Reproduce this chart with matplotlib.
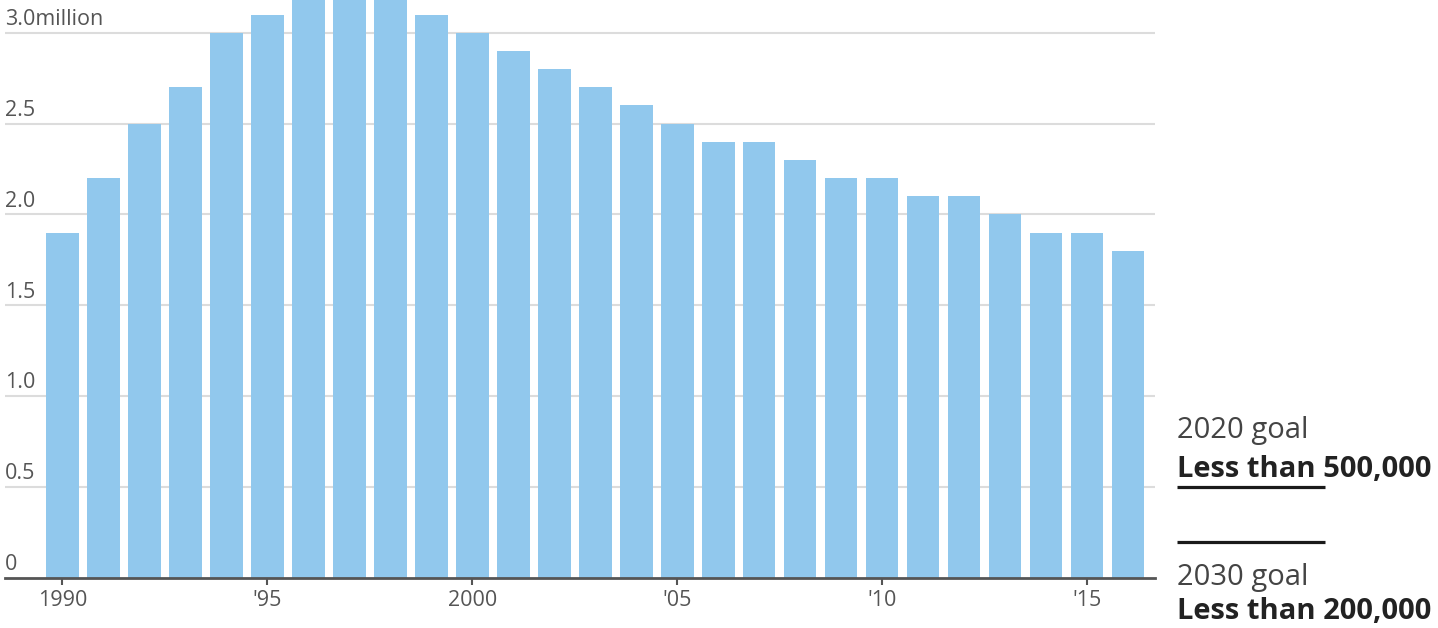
import matplotlib.pyplot as plt
from matplotlib.transforms import blended_transform_factory

plt.rcParams['font.family'] = ['Open Sans', 'DejaVu Sans']

# Yearly totals, in millions
years = list(range(1990, 2017))
totals = [1.9, 2.2, 2.5, 2.7, 3.0, 3.1, 3.2, 3.2, 3.2, 3.1,
          3.0, 2.9, 2.8, 2.7, 2.6, 2.5, 2.4, 2.4, 2.3, 2.2,
          2.2, 2.1, 2.1, 2.0, 1.9, 1.9, 1.8]

y_ticks = [0, 0.5, 1.0, 1.5, 2.0, 2.5, 3.0]
y_labels = ['0', '0.5', '1.0', '1.5', '2.0', '2.5', '3.0million']
x_ticks = [1990, 1995, 2000, 2005, 2010, 2015]
x_labels = ['1990', "'95", '2000', "'05", "'10", "'15"]

goal_years = ['2020 goal', '2030 goal']
goal_text = ['Less than 500,000', 'Less than 200,000']
goal_values = [0.5, 0.2]

W, H = 1438, 628
fig = plt.figure(figsize=(W / 100, H / 100), dpi=100)
ax = fig.add_axes([5 / W, 50 / H, 1150 / W, 578 / H])

ax.bar(years, totals, width=0.8, color='#91c8ed', zorder=2)
ax.set_xlim(1988.6, 2016.66)
ax.set_ylim(0, 3.18)

# light gridlines, labels sit on top of each line at the left edge
ax.set_yticks(y_ticks[1:])
ax.yaxis.grid(True, color='#dcdcdc', linewidth=1.5, zorder=0)
ax.tick_params(axis='y', length=0, labelleft=False)
for v, lab in zip(y_ticks, y_labels):
    ax.annotate(lab, xy=(0, v), xycoords=('axes fraction', 'data'),
                xytext=(0, 2), textcoords='offset points',
                ha='left', va='bottom', fontsize=15.5, color='#555555')

ax.set_xticks(x_ticks)
ax.set_xticklabels(x_labels, fontsize=15.5, color='#555555')
ax.tick_params(axis='x', length=5, width=1.5, color='#555555', pad=4)

for s in ['top', 'right', 'left']:
    ax.spines[s].set_visible(False)
ax.spines['bottom'].set_color('#555555')
ax.spines['bottom'].set_linewidth(2)
ax.spines['bottom'].set_zorder(3)

# goal markers to the right of the plot
tr = blended_transform_factory(ax.transAxes, ax.transData)
for v in goal_values:
    ax.plot([1.0191, 1.1478], [v, v], color='#1a1a1a', linewidth=2.3,
            transform=tr, clip_on=False, solid_capstyle='butt')

x0 = 1177 / W
fig.text(x0, 1 - 438 / H, goal_years[0], fontsize=21, color='#444444', va='baseline')
fig.text(x0, 1 - 477 / H, goal_text[0], fontsize=21, color='#222222',
         fontweight='bold', va='baseline')
fig.text(x0, 1 - 585 / H, goal_years[1], fontsize=21, color='#444444', va='baseline')
fig.text(x0, 1 - 619 / H, goal_text[1], fontsize=21, color='#222222',
         fontweight='bold', va='baseline')

fig.savefig('out.png', dpi=100, facecolor='white')
